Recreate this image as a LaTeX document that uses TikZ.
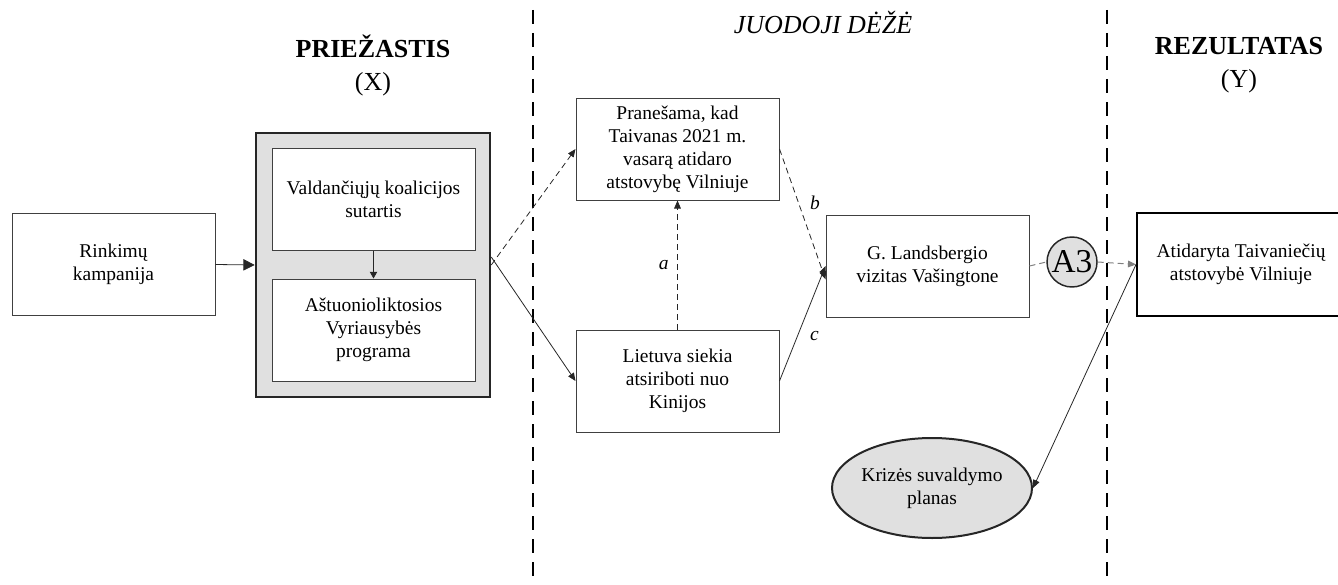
\documentclass[tikz,border=0pt]{standalone}
\usepackage{fontspec}
\setmainfont{Liberation Serif}
\usetikzlibrary{arrows.meta,shapes.geometric,positioning}

\begin{document}
\begin{tikzpicture}[x=0.75pt,y=0.75pt,yscale=-1,xscale=1,
  box/.style={draw=black!75,line width=0.75pt,fill=white,minimum width=152.25pt,minimum height=76.5pt,inner sep=2pt,align=center,font=\fontsize{14.6}{17.3}\selectfont},
  heading/.style={align=center,font=\fontsize{19.5}{24.75}\selectfont},
  divider/.style={line width=1.5pt,dash pattern=on 10.5pt off 6.75pt},
  arr/.style={draw=black!85,line width=0.6pt,-{Triangle[length=6pt,width=5pt]}},
  dasharr/.style={arr,dash pattern=on 4.5pt off 3pt},
  greydash/.style={draw=black!50,line width=0.75pt,dash pattern=on 4.5pt off 3pt},
  lbl/.style={font=\fontsize{14.6}{17.3}\selectfont\itshape}]
\useasboundingbox (0,0) rectangle (1338,585);

% Dividers
\draw [divider] (533,10) -- (533,585) ;
\draw [divider] (1107,10) -- (1107,585) ;

% Headings
\node [heading] (hx) at (373,65) {\textbf{PRIEŽASTIS}\\(X)};
\node [heading,font=\fontsize{19.5}{24.75}\selectfont\itshape] (hbox) at (823,22) {JUODOJI DĖŽĖ};
\node [heading] (hy) at (1239,65) {\textbf{REZULTATAS}\\(Y)};

% Cause
\node [box] (rink) at (113.5,264.5) {Rinkimų\\kampanija};
\node [box,draw=black!85,fill=black!12,line width=1.9pt,minimum width=175.5pt,minimum height=198pt] (outer) at (373,265) {};
\node [box] (koal) at (373.5,199) {Valdančiųjų koalicijos\\sutartis};
\node [box] (prog) at (373.5,330) {Aštuonioliktosios\\Vyriausybės\\programa};

% Black box
\node [box] (pran) at (677.5,149) {Pranešama, kad\\Taivanas 2021 m.\\vasarą atidaro\\atstovybę Vilniuje};
\node [box] (liet) at (677.5,381) {Lietuva siekia\\atsiriboti nuo\\Kinijos};
\node [box] (land) at (927.5,266) {G. Landsbergio\\vizitas Vašingtone};
\node [draw=black!85,fill=black!12,line width=1.1pt,circle,minimum size=37.5pt,inner sep=0pt,font=\fontsize{25}{25}\selectfont] (a3) at (1072,262) {A3};
\node [box,draw=black!85,fill=black!12,line width=1.5pt,ellipse,minimum width=150pt,minimum height=75pt,inner sep=0pt] (krize) at (932,488) {Krizės suvaldymo\\planas};

% Result
\node [box,draw=black,line width=1.5pt,minimum width=156pt,minimum height=77.25pt] (atid) at (1241,264.5) {Atidaryta Taivaniečių\\atstovybė Vilniuje};

% Connectors
\draw [arr,-{Triangle[length=8.5pt,width=8.5pt]}] (rink.east) -- (outer.west) ;
\draw [arr,-{Triangle[length=5pt,width=5.5pt]}] (koal.south) -- (prog.north) ;
\draw [dasharr] (outer.east) -- (pran.west) ;
\draw [arr] ([yshift=-6pt]outer.east) -- (liet.west) ;
\draw [dasharr] (liet.north) -- (pran.south) node [lbl,midway,left=3pt] {a} ;
\draw [dasharr] (pran.east) -- ([yshift=10pt]land.west) node [lbl,midway,above right=0pt and 2pt] {b} ;
\draw [arr] (liet.east) -- (land.west) node [lbl,midway,below right=2pt and 2pt] {c} ;
\draw [greydash] (land.east) -- (a3.west) ;
\draw [greydash,-{Triangle[length=6pt,width=5pt]}] (a3.east) -- (atid.west) ;
\draw [arr] (atid.west) -- (krize.east) ;

\end{tikzpicture}
\end{document}
